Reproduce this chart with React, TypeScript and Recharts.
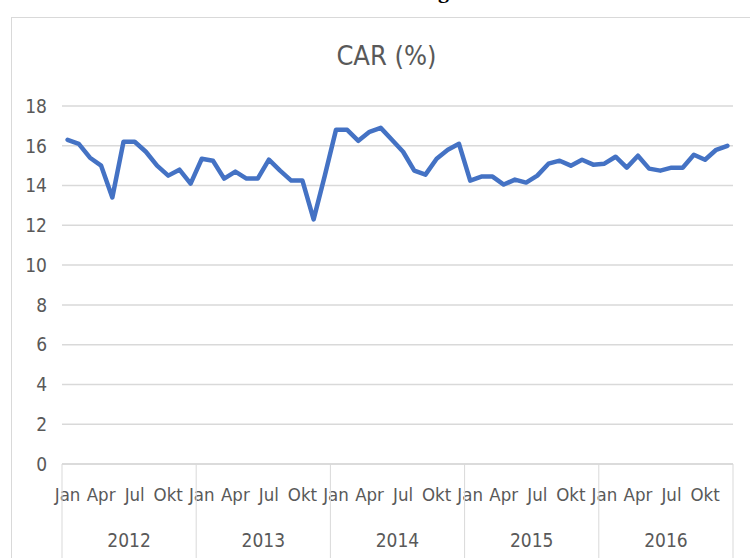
import React from 'react';
import { LineChart, Line, XAxis, YAxis, CartesianGrid } from 'recharts';

const years = ['2012', '2013', '2014', '2015', '2016'];
const months = ['Jan', 'Feb', 'Mar', 'Apr', 'Mei', 'Jun', 'Jul', 'Agu', 'Sep', 'Okt', 'Nov', 'Des'];
const shownMonths = ['Jan', 'Apr', 'Jul', 'Okt'];
const yTicks = [0, 2, 4, 6, 8, 10, 12, 14, 16, 18];

const car2012 = [16.3, 16.1, 15.4, 15.0, 13.4, 16.2, 16.2, 15.7, 15.0, 14.5, 14.8, 14.1];
const car2013 = [15.35, 15.25, 14.35, 14.7, 14.35, 14.35, 15.3, 14.75, 14.25, 14.25, 12.3, 14.5];
const car2014 = [16.8, 16.8, 16.25, 16.7, 16.9, 16.3, 15.7, 14.75, 14.55, 15.35, 15.8, 16.1];
const car2015 = [14.25, 14.45, 14.45, 14.05, 14.3, 14.15, 14.5, 15.1, 15.25, 15.0, 15.3, 15.05];
const car2016 = [15.1, 15.45, 14.9, 15.5, 14.85, 14.75, 14.9, 14.9, 15.55, 15.3, 15.8, 16.0];

const carByYear = [car2012, car2013, car2014, car2015, car2016];

const data = years.flatMap((yr, yi) =>
  months.map((m, mi) => ({ key: `${m} ${yr}`, month: m, year: yr, car: carByYear[yi][mi] }))
);

const W = 750;
const H = 558;
const PLOT_LEFT = 62;
const PLOT_RIGHT = 733;
const PLOT_TOP = 106;
const PLOT_BOTTOM = 464;
const BAND = (PLOT_RIGHT - PLOT_LEFT) / data.length;
const HALF = BAND / 2;

const FONT = '"Liberation Sans Narrow", "DejaVu Sans Condensed", "Liberation Sans", sans-serif';
const TEXT = '#595959';
const GRID = '#d9d9d9';

const MonthYearTick = (props: any) => {
  const { x, y, payload } = props;
  const idx = payload.index as number;
  const d = data[idx];
  if (!d) return null;
  const mi = months.indexOf(d.month);
  const els: React.ReactNode[] = [];
  if (shownMonths.includes(d.month)) {
    els.push(
      <text key="m" x={x} y={y + 37} textAnchor="middle" fill={TEXT} fontSize={18.5} fontFamily={FONT}>
        {d.month}
      </text>
    );
  }
  if (mi === 0) {
    els.push(<line key="l" x1={x - HALF} x2={x - HALF} y1={y} y2={H} stroke={GRID} strokeWidth={1} />);
  }
  if (idx === data.length - 1) {
    els.push(<line key="r" x1={x + HALF} x2={x + HALF} y1={y} y2={H} stroke={GRID} strokeWidth={1} />);
  }
  if (mi === 5) {
    els.push(
      <text key="y" x={x + HALF} y={y + 83} textAnchor="middle" fill={TEXT} fontSize={19} fontFamily={FONT}>
        {d.year}
      </text>
    );
  }
  return <g>{els}</g>;
};

export default function App() {
  return (
    <div style={{ position: 'absolute', left: 0, top: 0, width: W, height: H, overflow: 'hidden', background: '#fff' }}>
      <div
        style={{
          position: 'absolute',
          left: 438,
          top: -20,
          fontFamily: '"Liberation Serif", serif',
          fontWeight: 'bold',
          fontSize: 22,
          lineHeight: '22px',
          color: '#000',
        }}
      >
        g
      </div>
      <div
        style={{
          position: 'absolute',
          left: 11,
          top: 17,
          width: 800,
          height: 700,
          border: `1px solid ${GRID}`,
          boxSizing: 'border-box',
        }}
      />
      <div
        style={{
          position: 'absolute',
          left: 0,
          width: 773,
          top: 39,
          textAlign: 'center',
          fontFamily: FONT,
          fontSize: 27,
          lineHeight: '34px',
          color: TEXT,
        }}
      >
        CAR (%)
      </div>
      <div style={{ position: 'absolute', left: 0, top: 0 }}>
        <LineChart
          width={W}
          height={H}
          data={data}
          margin={{ top: PLOT_TOP, right: W - PLOT_RIGHT, bottom: 0, left: 0 }}
        >
          <CartesianGrid vertical={false} stroke={GRID} strokeWidth={1.5} />
          <XAxis
            dataKey="key"
            interval={0}
            height={H - PLOT_BOTTOM}
            padding={{ left: HALF, right: HALF }}
            tickSize={0}
            tickMargin={0}
            tickLine={false}
            axisLine={{ stroke: GRID, strokeWidth: 1.5 }}
            tick={<MonthYearTick />}
          />
          <YAxis
            domain={[0, 18]}
            ticks={yTicks}
            interval={0}
            width={PLOT_LEFT}
            axisLine={false}
            tickLine={false}
            tickSize={0}
            tickMargin={15}
            tick={{ fill: TEXT, fontSize: 19, fontFamily: FONT }}
          />
          <Line
            type="linear"
            dataKey="car"
            stroke="#4472C4"
            strokeWidth={4.5}
            strokeLinejoin="round"
            strokeLinecap="round"
            dot={false}
            isAnimationActive={false}
          />
        </LineChart>
      </div>
    </div>
  );
}
